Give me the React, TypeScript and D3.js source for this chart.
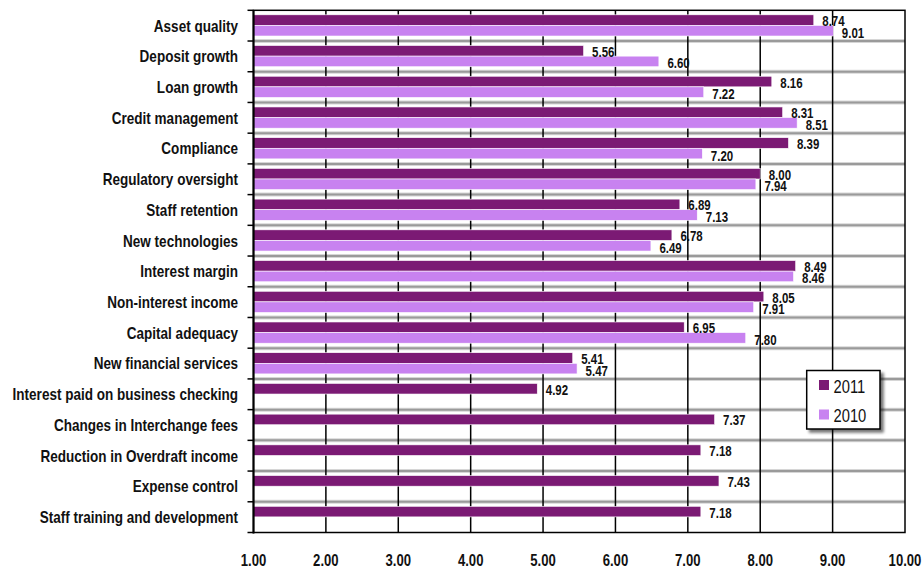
import React from "react";
import * as d3 from "d3";

const categories = [
  "Asset quality",
  "Deposit growth",
  "Loan growth",
  "Credit management",
  "Compliance",
  "Regulatory oversight",
  "Staff retention",
  "New technologies",
  "Interest margin",
  "Non-interest income",
  "Capital adequacy",
  "New financial services",
  "Interest paid on business checking",
  "Changes in Interchange fees",
  "Reduction in Overdraft income",
  "Expense control",
  "Staff training and development",
];

const values2011 = [8.74, 5.56, 8.16, 8.31, 8.39, 8.0, 6.89, 6.78, 8.49, 8.05, 6.95, 5.41, 4.92, 7.37, 7.18, 7.43, 7.18];
const values2010: (number | null)[] = [9.01, 6.6, 7.22, 8.51, 7.2, 7.94, 7.13, 6.49, 8.46, 7.91, 7.8, 5.47, null, null, null, null, null];

const seriesNames = ["2011", "2010"];
const xTicks = [1, 2, 3, 4, 5, 6, 7, 8, 9, 10];

const W = 922;
const H = 567;
const plot = { left: 253.5, right: 905, top: 10.3, bottom: 532.5 };
const colors = ["#7B1A74", "#C882F0"];
const font = "'Liberation Sans', Arial, sans-serif";
const SQUEEZE = 0.82;

// Condensed text: regular sans squeezed horizontally around its anchor point
function Txt(props: {
  x: number;
  y: number;
  size: number;
  bold?: boolean;
  anchor?: "start" | "middle" | "end";
  dy?: string;
  children: React.ReactNode;
}) {
  const { x, y, size, bold, anchor = "start", dy, children } = props;
  return (
    <text
      transform={`translate(${x},${y}) scale(${SQUEEZE},1)`}
      dy={dy}
      textAnchor={anchor}
      fontFamily={font}
      fontWeight={bold ? "bold" : "normal"}
      fontSize={size}
      fill="#111"
    >
      {children}
    </text>
  );
}

export default function App() {
  const x = d3.scaleLinear().domain([1, 10]).range([plot.left, plot.right]);
  const y = d3.scaleBand<string>().domain(categories).range([plot.top, plot.bottom]);
  const bw = y.bandwidth();
  const barH = bw * 0.345;
  const inset = bw * 0.147;
  const boundaries = d3.range(categories.length + 1).map((i) => plot.top + i * bw);
  const fmt = d3.format(".2f");

  const series = [values2011, values2010];

  return (
    <svg width={W} height={H} style={{ position: "absolute", left: 0, top: 0, background: "#fff" }}>
      <defs>
        <filter id="legShadow" x="-20%" y="-20%" width="150%" height="150%">
          <feGaussianBlur in="SourceAlpha" stdDeviation="1.5" />
          <feOffset dx="3" dy="3" result="b" />
          <feComponentTransfer>
            <feFuncA type="linear" slope="0.55" />
          </feComponentTransfer>
          <feMerge>
            <feMergeNode />
            <feMergeNode in="SourceGraphic" />
          </feMerge>
        </filter>
      </defs>

      {/* horizontal category gridlines */}
      {boundaries.slice(1, -1).map((b, i) => (
        <g key={"h" + i}>
          <line x1={plot.left} x2={plot.right} y1={b} y2={b} stroke="#d6d6d6" strokeWidth={4} />
          <line x1={plot.left} x2={plot.right} y1={b} y2={b} stroke="#9a9a9a" strokeWidth={2} />
        </g>
      ))}

      {/* vertical value gridlines */}
      {xTicks.slice(1, -1).map((t) => (
        <line key={"v" + t} x1={x(t)} x2={x(t)} y1={plot.top} y2={plot.bottom} stroke="#000" strokeWidth={1.5} />
      ))}

      {/* bars */}
      {series.map((vals, si) =>
        vals.map((v, i) =>
          v == null ? null : (
            <rect
              key={`b${si}-${i}`}
              x={x(1)}
              y={(y(categories[i]) as number) + inset + si * barH}
              width={x(v) - x(1)}
              height={barH}
              fill={colors[si]}
              stroke="#fff"
              strokeWidth={0.6}
            />
          )
        )
      )}

      {/* value labels */}
      {series.map((vals, si) =>
        vals.map((v, i) =>
          v == null ? null : (
            <Txt
              key={`l${si}-${i}`}
              x={x(v) + 8.5}
              y={(y(categories[i]) as number) + inset + si * barH + barH / 2 + 1 + si}
              dy="0.36em"
              size={14}
              bold
            >
              {fmt(v)}
            </Txt>
          )
        )
      )}

      {/* plot frame */}
      <rect
        x={plot.left}
        y={plot.top}
        width={plot.right - plot.left}
        height={plot.bottom - plot.top}
        fill="none"
        stroke="#000"
        strokeWidth={1.5}
      />
      <line x1={plot.left} x2={plot.left} y1={plot.top} y2={plot.bottom + 1} stroke="#000" strokeWidth={2} />

      {/* category ticks */}
      {boundaries.map((b, i) => (
        <line key={"t" + i} x1={plot.left - 6} x2={plot.left} y1={b} y2={b} stroke="#000" strokeWidth={1.5} />
      ))}

      {/* category labels */}
      {categories.map((c) => (
        <Txt key={c} x={238} y={(y(c) as number) + bw / 2} dy="0.36em" anchor="end" size={16.5} bold>
          {c}
        </Txt>
      ))}

      {/* value axis labels */}
      {xTicks.map((t) => (
        <Txt key={"x" + t} x={x(t)} y={566} anchor="middle" size={16} bold>
          {fmt(t)}
        </Txt>
      ))}

      {/* legend */}
      <g>
        <rect x={806.7} y={370.5} width={73.3} height={58.5} fill="#fff" stroke="#000" strokeWidth={1.5} filter="url(#legShadow)" />
        {seriesNames.map((s, i) => (
          <g key={s} transform={`translate(819, ${380 + i * 29.5})`}>
            <rect x={0} y={0} width={10} height={10} fill={colors[i]} />
            <Txt x={14.5} y={12.8} size={18}>
              {s}
            </Txt>
          </g>
        ))}
      </g>
    </svg>
  );
}
